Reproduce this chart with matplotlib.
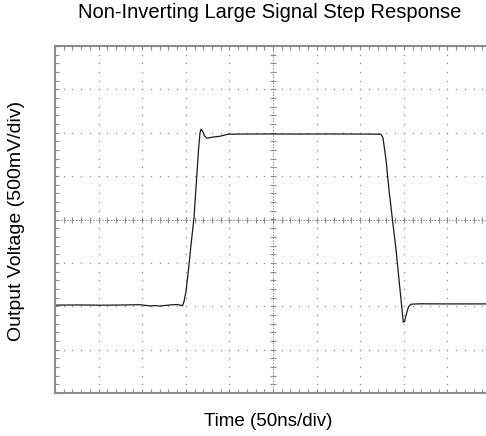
import numpy as np
import matplotlib.pyplot as plt

plt.rcParams['font.family'] = ['Liberation Sans', 'DejaVu Sans']

# waveform (time in ns, output in V)
time_ns = [0, 30, 52, 75, 97, 104, 109, 115, 120, 132, 140, 146.2, 147.9, 150.2,
           153.1, 156.0, 159.4, 162.3, 164.6, 166.3, 167.4, 169.1, 171.4, 174.3,
           180.0, 189.2, 198.4, 215, 240, 280, 320, 350, 373.9, 376.1, 379.6,
           383.0, 387.0, 391.1, 394.5, 397.4, 399.4, 400.8, 403.1, 405.4, 408.3,
           418.6, 450, 500]
vout = [-0.987, -0.985, -0.988, -0.986, -0.982, -0.990, -0.996, -0.992, -0.998,
        -0.985, -0.980, -0.993, -0.947, -0.832, -0.578, -0.290, 0.021, 0.459,
        0.804, 1.0, 1.040, 1.023, 0.965, 0.937, 0.948, 0.960, 0.983, 0.985,
        0.986, 0.985, 0.986, 0.985, 0.983, 0.942, 0.689, 0.343, -0.002, -0.348,
        -0.694, -0.982, -1.183, -1.177, -1.085, -1.005, -0.976, -0.972, -0.973,
        -0.973]

t_div = 50      # ns per division
v_div = 0.5     # V per division
n_x, n_y = 10, 8

fig = plt.figure(figsize=(4.86, 4.36), dpi=100)
ax = fig.add_axes([55 / 486, 43 / 436, 436 / 486, 347 / 436])

t_max = n_x * t_div
v_max = n_y / 2 * v_div
ax.set_xlim(0, t_max)
ax.set_ylim(-v_max, v_max)

grid_c = '#8c8c8c'
minor_t = np.arange(0, t_max + 1e-6, t_div / 5)
minor_v = np.arange(-v_max, v_max + 1e-6, v_div / 5)

# dotted graticule
for k in range(1, n_x):
    x = k * t_div
    if k == n_x // 2:
        continue
    ax.plot(np.full_like(minor_v, x), minor_v, ls='none', marker='s',
            ms=0.9, mew=0, color=grid_c)
for k in range(1, n_y):
    y = -v_max + k * v_div
    if k == n_y // 2:
        continue
    ax.plot(minor_t, np.full_like(minor_t, y), ls='none', marker='s',
            ms=0.9, mew=0, color=grid_c)

# center crosshair with ticks
ax.plot([t_max / 2, t_max / 2], [-v_max, v_max], color=grid_c, lw=0.7,
        ls=(0, (1.5, 1.5)))
ax.plot([0, t_max], [0, 0], color=grid_c, lw=0.7, ls=(0, (1.5, 1.5)))
ax.plot(np.full_like(minor_v, t_max / 2), minor_v, ls='none', marker='_',
        ms=5, mew=0.8, color=grid_c)
ax.plot(minor_t, np.zeros_like(minor_t), ls='none', marker='|',
        ms=5, mew=0.8, color=grid_c)

ax.plot(time_ns, vout, color='#1a1a1a', lw=0.9)

ax.set_xticks(np.arange(0, t_max + 1, t_div))
ax.set_yticks(np.arange(-v_max, v_max + 0.01, v_div))
ax.set_xticks(minor_t, minor=True)
ax.set_yticks(minor_v, minor=True)
ax.tick_params(which='both', direction='in', length=3, width=0.8, color=grid_c,
               top=True, right=True, labelbottom=False, labelleft=False)
for s in ax.spines.values():
    s.set_color('#8c8c8c')
    s.set_linewidth(1.5)

fig.text(270 / 486, 1 - 13 / 436, 'Non-Inverting Large Signal Step Response',
         ha='center', va='center', fontsize=14.5)
fig.text(268 / 486, 1 - 421 / 436, 'Time (50ns/div)', ha='center',
         va='center', fontsize=13.5)
fig.text(17 / 486, 1 - 221 / 436, 'Output Voltage (500mV/div)', ha='center',
         va='center', rotation=90, fontsize=14)

fig.savefig('out.png', dpi=100)
